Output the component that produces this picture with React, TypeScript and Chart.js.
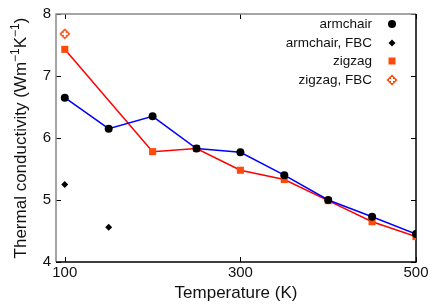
import React, { useEffect, useRef } from "react";
import { Chart, registerables } from "chart.js";

Chart.register(...registerables);

const armTemps = [100, 150, 200, 250, 300, 350, 400, 450, 500];
const armValues = [6.65, 6.15, 6.35, 5.83, 5.77, 5.4, 5.0, 4.73, 4.45];
const zigTemps = [100, 200, 250, 300, 350, 400, 450, 500];
const zigValues = [7.43, 5.78, 5.83, 5.48, 5.33, 4.99, 4.65, 4.41];
const armFbcTemps = [100, 150];
const armFbcValues = [5.25, 4.56];
const zigFbcTemps = [100];
const zigFbcValues = [7.68];
const xTicks = [100, 300, 500];
const yTicks = [4, 5, 6, 7, 8];
const legendLabels = ["armchair", "armchair, FBC", "zigzag", "zigzag, FBC"];

const FONT = "'Liberation Sans', Arial, sans-serif";
const ORANGE = "#ff4a0a";

function makeFbcMarker(): HTMLCanvasElement {
  const c = document.createElement("canvas");
  c.width = 12;
  c.height = 12;
  const g = c.getContext("2d")!;
  const cx = 6, cy = 6, r = 5.5;
  g.fillStyle = ORANGE;
  g.beginPath();
  g.moveTo(cx, cy - r);
  g.lineTo(cx + r, cy);
  g.lineTo(cx, cy + r);
  g.lineTo(cx - r, cy);
  g.closePath();
  g.fill();
  g.strokeStyle = "#ffffff";
  g.lineWidth = 2;
  g.beginPath();
  g.moveTo(cx - 3, cy);
  g.lineTo(cx + 3, cy);
  g.moveTo(cx, cy - 3);
  g.lineTo(cx, cy + 3);
  g.stroke();
  return c;
}

const pts = (xs: number[], ys: number[]) => xs.map((x, i) => ({ x, y: ys[i] }));

export default function App() {
  const ref = useRef<HTMLCanvasElement>(null);
  useEffect(() => {
    document.body.style.margin = "0";
    const fbc = makeFbcMarker();
    const framePlugin = {
      id: "frame",
      beforeDatasetsDraw(chart: any) {
        const { ctx, chartArea: a, scales } = chart;
        ctx.save();
        ctx.lineWidth = 1;
        const tl = 5;
        ctx.strokeStyle = "#000";
        ctx.beginPath();
        xTicks.forEach((v) => {
          const px = Math.round(scales.x.getPixelForValue(v)) + 0.5;
          ctx.moveTo(px, a.bottom);
          ctx.lineTo(px, a.bottom - tl);
          ctx.moveTo(px, a.top);
          ctx.lineTo(px, a.top + tl);
        });
        yTicks.forEach((v) => {
          const py = Math.round(scales.y.getPixelForValue(v)) + 0.5;
          ctx.moveTo(a.left, py);
          ctx.lineTo(a.left + tl, py);
          ctx.moveTo(a.right, py);
          ctx.lineTo(a.right - tl, py);
        });
        ctx.stroke();
        ctx.lineWidth = 1.5;
        ctx.strokeStyle = "#888";
        ctx.beginPath();
        ctx.moveTo(a.left, a.bottom);
        ctx.lineTo(a.left, a.top);
        ctx.lineTo(a.right, a.top);
        ctx.stroke();
        ctx.strokeStyle = "#000";
        ctx.beginPath();
        ctx.moveTo(a.right, a.top);
        ctx.lineTo(a.right, a.bottom);
        ctx.lineTo(a.left, a.bottom);
        ctx.stroke();
        ctx.restore();
      },
      afterDraw(chart: any) {
        const { ctx, chartArea: a } = chart;
        ctx.save();
        ctx.font = `13.5px ${FONT}`;
        ctx.textAlign = "right";
        ctx.textBaseline = "middle";
        const rows = [24, 43, 61, 80];
        legendLabels.forEach((t, i) => {
          const y = rows[i];
          ctx.fillStyle = "#111";
          ctx.fillText(t, 372, y);
          const mx = 392;
          if (i === 0) {
            ctx.fillStyle = "#000";
            ctx.beginPath();
            ctx.arc(mx, y, 4, 0, Math.PI * 2);
            ctx.fill();
          } else if (i === 1) {
            ctx.fillStyle = "#000";
            ctx.beginPath();
            ctx.moveTo(mx, y - 3.5);
            ctx.lineTo(mx + 3.5, y);
            ctx.lineTo(mx, y + 3.5);
            ctx.lineTo(mx - 3.5, y);
            ctx.closePath();
            ctx.fill();
          } else if (i === 2) {
            ctx.fillStyle = ORANGE;
            ctx.fillRect(mx - 3.5, y - 3.5, 7, 7);
          } else {
            ctx.drawImage(fbc, mx - 6, y - 6);
          }
        });
        ctx.translate(20, (a.top + a.bottom) / 2);
        ctx.rotate(-Math.PI / 2);
        const main = `17px ${FONT}`;
        const sup = `12px ${FONT}`;
        const parts: [string, boolean][] = [
          ["Thermal conductivity (Wm", false],
          ["\u22121", true],
          ["K", false],
          ["\u22121", true],
          [")", false],
        ];
        let total = 0;
        parts.forEach(([t, s]) => {
          ctx.font = s ? sup : main;
          total += ctx.measureText(t).width;
        });
        let x = -total / 2;
        ctx.textAlign = "left";
        ctx.textBaseline = "alphabetic";
        ctx.fillStyle = "#111";
        parts.forEach(([t, s]) => {
          ctx.font = s ? sup : main;
          ctx.fillText(t, x, s ? -1 : 6);
          x += ctx.measureText(t).width;
        });
        ctx.restore();
      },
    };

    const chart = new Chart(ref.current!, {
      type: "scatter",
      data: {
        datasets: [
          {
            label: "armchair",
            data: pts(armTemps, armValues),
            showLine: true,
            borderColor: "#0000ff",
            borderWidth: 1.5,
            pointStyle: "circle",
            pointRadius: 4,
            pointBackgroundColor: "#000",
            pointBorderColor: "#000",
            pointBorderWidth: 0,
          },
          {
            label: "armchair, FBC",
            data: pts(armFbcTemps, armFbcValues),
            showLine: false,
            pointStyle: "rectRot",
            pointRadius: 3.5,
            pointBackgroundColor: "#000",
            pointBorderColor: "#000",
            pointBorderWidth: 0,
          },
          {
            label: "zigzag",
            data: pts(zigTemps, zigValues),
            showLine: true,
            borderColor: "#ff0000",
            borderWidth: 1.5,
            pointStyle: "rect",
            pointRadius: 5,
            pointBackgroundColor: ORANGE,
            pointBorderColor: ORANGE,
            pointBorderWidth: 0,
          },
          {
            label: "zigzag, FBC",
            data: pts(zigFbcTemps, zigFbcValues),
            showLine: false,
            pointStyle: fbc as any,
            pointRadius: 6,
          },
        ],
      },
      options: {
        responsive: false,
        animation: false,
        layout: { padding: { top: 10, right: 20, left: 0, bottom: 0 } },
        plugins: { legend: { display: false }, tooltip: { enabled: false } },
        scales: {
          x: {
            type: "linear",
            min: 90,
            max: 500,
            grid: { display: false, drawTicks: false, tickLength: 0 },
            border: { display: false },
            afterBuildTicks: (s: any) => {
              s.ticks = xTicks.map((v) => ({ value: v }));
            },
            afterFit: (s: any) => {
              s.height = 43;
            },
            ticks: {
              color: "#111",
              font: { family: FONT, size: 15 },
              padding: 2,
              maxRotation: 0,
              autoSkip: false,
            },
            title: {
              display: true,
              text: "Temperature (K)",
              color: "#111",
              font: { family: FONT, size: 17 },
              padding: { top: 0, bottom: 1 },
            },
          },
          y: {
            min: 4,
            max: 8,
            grid: { display: false, drawTicks: false, tickLength: 0 },
            border: { display: false },
            afterBuildTicks: (s: any) => {
              s.ticks = yTicks.map((v) => ({ value: v }));
            },
            afterFit: (s: any) => {
              s.width = 56;
            },
            ticks: {
              color: "#111",
              font: { family: FONT, size: 15 },
              padding: 5,
            },
          },
        },
      },
      plugins: [framePlugin],
    });
    return () => chart.destroy();
  }, []);
  return (
    <div style={{ width: 436, height: 305 }}>
      <canvas ref={ref} width={436} height={305} style={{ display: "block" }} />
    </div>
  );
}
